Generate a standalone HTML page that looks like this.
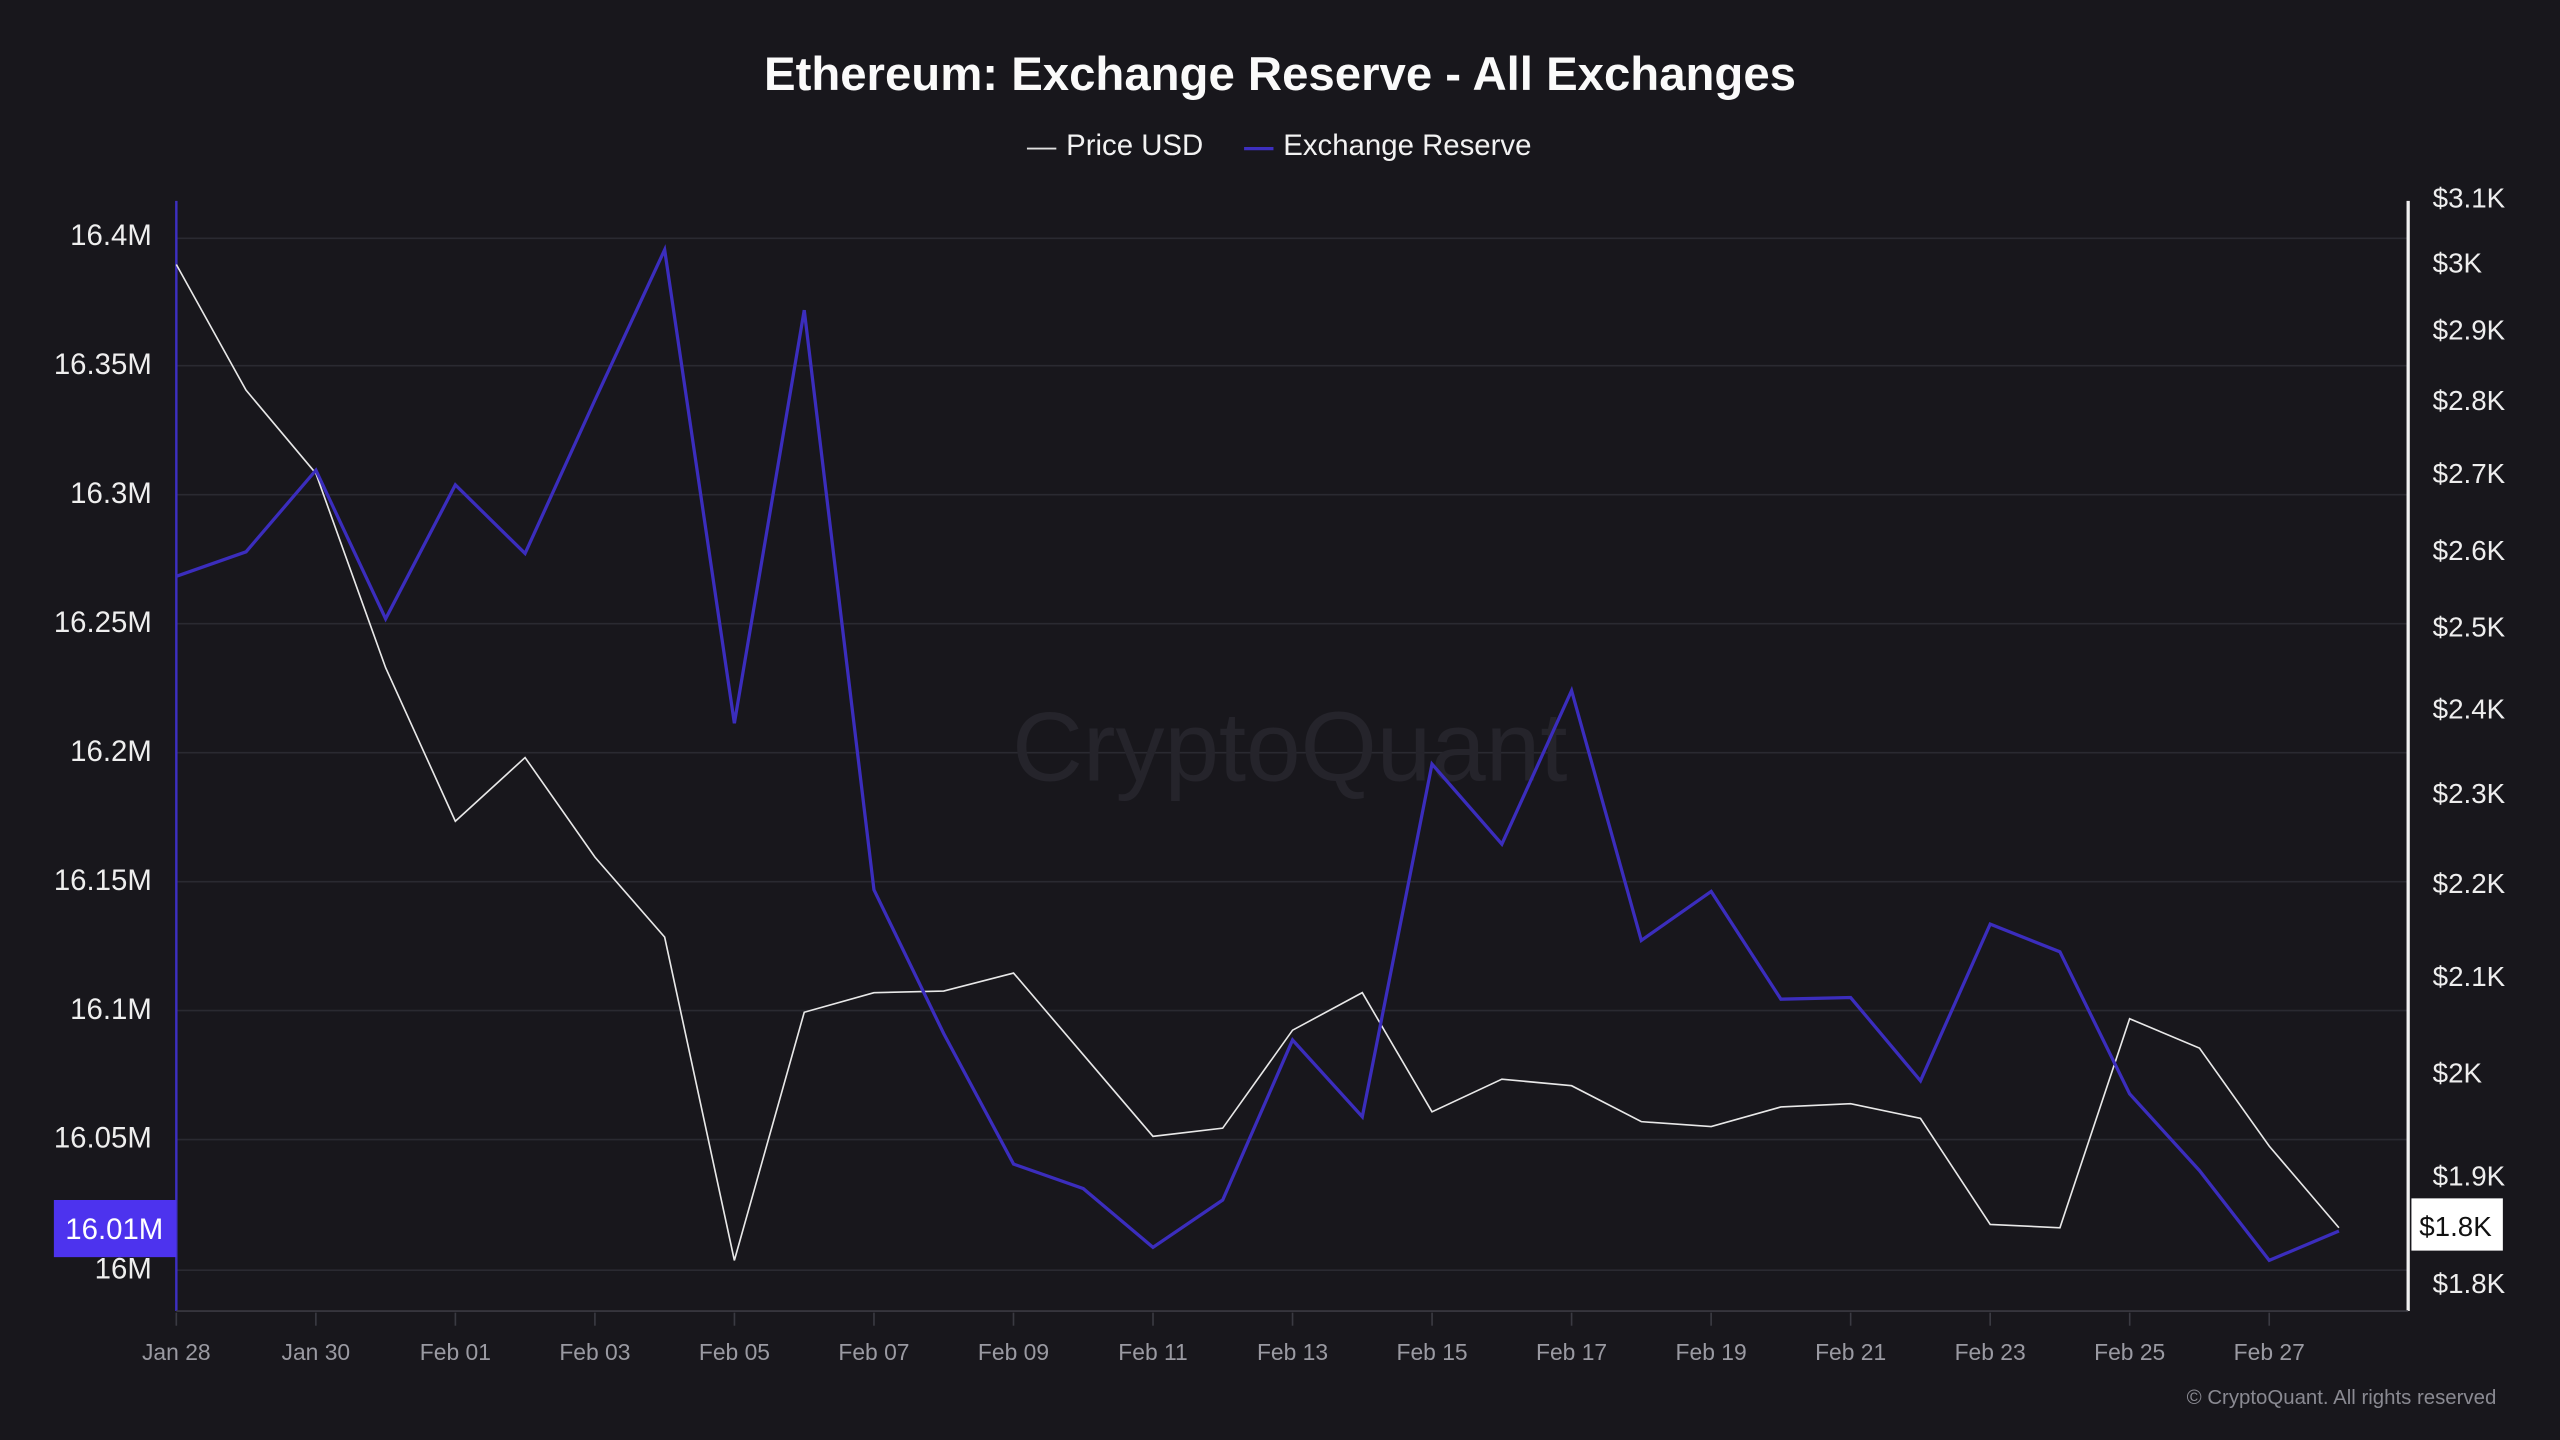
<!DOCTYPE html>
<html><head><meta charset="utf-8"><style>
html,body{margin:0;padding:0;background:#18171c;}
svg{display:block}
text{font-family:"Liberation Sans",sans-serif;}
</style></head><body>
<svg id="c" width="2560" height="1440" viewBox="0 0 1568 882" xmlns="http://www.w3.org/2000/svg">
<rect width="1568" height="882" fill="#18171c"/>
<g stroke="#2a2a31" stroke-width="1">
<line x1="108" x2="1475" y1="146" y2="146"/><line x1="108" x2="1475" y1="224" y2="224"/>
<line x1="108" x2="1475" y1="303" y2="303"/><line x1="108" x2="1475" y1="382" y2="382"/>
<line x1="108" x2="1475" y1="461" y2="461"/><line x1="108" x2="1475" y1="540" y2="540"/>
<line x1="108" x2="1475" y1="619" y2="619"/><line x1="108" x2="1475" y1="698" y2="698"/>
<line x1="108" x2="1475" y1="778" y2="778"/>
</g>
<text x="790" y="478" text-anchor="middle" font-size="60" fill="#25242b">CryptoQuant</text>
<text x="784" y="55" text-anchor="middle" font-size="29" font-weight="bold" fill="#fafafa">Ethereum: Exchange Reserve - All Exchanges</text>
<line x1="629" x2="647" y1="91" y2="91" stroke="#e0e0e0" stroke-width="1.2"/>
<text x="653" y="95" font-size="18" fill="#f2f2f2">Price USD</text>
<line x1="762" x2="780" y1="91" y2="91" stroke="#3d2fbf" stroke-width="2"/>
<text x="786" y="95" font-size="18" fill="#f2f2f2">Exchange Reserve</text>
<line x1="108" x2="108" y1="123" y2="803" stroke="#3d2fbf" stroke-width="1.5"/>
<line x1="1475" x2="1475" y1="123" y2="803" stroke="#f0f0f0" stroke-width="2"/>
<line x1="108" x2="1475" y1="803" y2="803" stroke="#3a3a42" stroke-width="1"/>
<g id="yl" font-size="18" fill="#eeeeee" text-anchor="end">
<text x="93" y="150">16.4M</text><text x="93" y="229">16.35M</text><text x="93" y="308">16.3M</text>
<text x="93" y="387">16.25M</text><text x="93" y="466">16.2M</text><text x="93" y="545">16.15M</text>
<text x="93" y="624">16.1M</text><text x="93" y="703">16.05M</text><text x="93" y="783">16M</text>
</g>
<rect x="33" y="735" width="75" height="35" fill="#4d33ee"/>
<text x="70" y="759" font-size="18" fill="#ffffff" text-anchor="middle">16.01M</text>
<g font-size="17" fill="#eeeeee">
<text x="1490" y="127">$3.1K</text><text x="1490" y="167">$3K</text><text x="1490" y="208">$2.9K</text>
<text x="1490" y="251">$2.8K</text><text x="1490" y="296">$2.7K</text><text x="1490" y="343">$2.6K</text>
<text x="1490" y="390">$2.5K</text><text x="1490" y="440">$2.4K</text><text x="1490" y="492">$2.3K</text>
<text x="1490" y="547">$2.2K</text><text x="1490" y="604">$2.1K</text><text x="1490" y="663">$2K</text>
<text x="1490" y="726">$1.9K</text><text x="1490" y="792">$1.8K</text>
</g>
<rect x="1477" y="734" width="56" height="32" fill="#ffffff"/>
<text x="1504" y="757" font-size="17" fill="#111" text-anchor="middle">$1.8K</text>
<g id="xt"></g>
<polyline id="pr" fill="none" stroke="#e8e8e8" stroke-width="1"/>
<polyline id="rs" fill="none" stroke="#3b2dbd" stroke-width="2"/>
<text x="1529" y="860" font-size="12.5" fill="#8a8a92" text-anchor="end">© CryptoQuant. All rights reserved</text>
</svg>
<script>
var rs=[353,338,288,379,297,339,245,153,443,190,545,633,713,728,764,735,637,684,468,517,423,576,546,612,611,662,566,583,670,717,772,754];
var pr=[162,239,290,409,503,464,525,574,772,620,608,607,596,646,696,691,631,608,681,661,665,687,690,678,676,685,750,752,624,642,702,752];
function X(i){return 108+42.73*i;}
document.getElementById('rs').setAttribute('points',rs.map(function(y,i){return X(i).toFixed(1)+','+y}).join(' '));
document.getElementById('pr').setAttribute('points',pr.map(function(y,i){return X(i).toFixed(1)+','+y}).join(' '));
var labs=['Jan 28','Jan 30','Feb 01','Feb 03','Feb 05','Feb 07','Feb 09','Feb 11','Feb 13','Feb 15','Feb 17','Feb 19','Feb 21','Feb 23','Feb 25','Feb 27'];
var g=document.getElementById('xt'),s='';
labs.forEach(function(l,k){var x=X(2*k);s+='<line x1="'+x+'" x2="'+x+'" y1="804" y2="812" stroke="#3a3a42"/><text x="'+x+'" y="833" font-size="14" fill="#9a9aa2" text-anchor="middle">'+l+'</text>';});
g.innerHTML=s;
</script>
</body></html>
